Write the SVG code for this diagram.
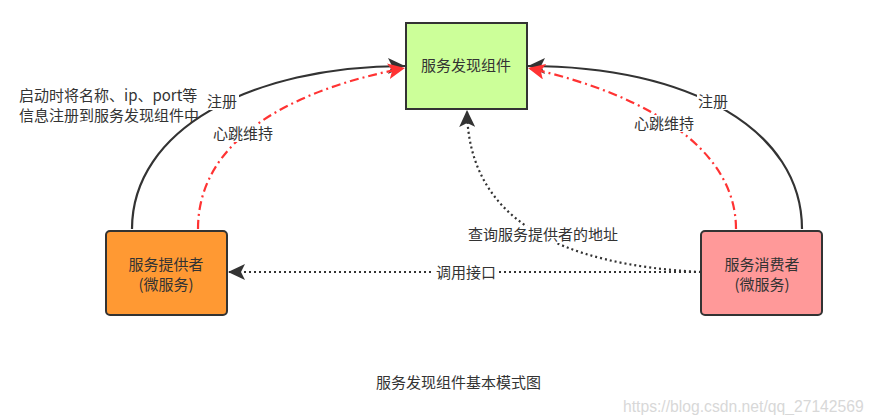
<svg xmlns="http://www.w3.org/2000/svg" width="880" height="415" viewBox="0 0 880 415">
<style>
text{font-family:"Noto Sans CJK SC","Microsoft YaHei",sans-serif;font-size:15px;fill:#333}
.node{stroke:#333;stroke-width:2}
.reg{fill:none;stroke:#333;stroke-width:2.2}
.hb{fill:none;stroke:#FF3333;stroke-width:2.2;stroke-dasharray:9 4 2 4}
.dot{fill:none;stroke:#333;stroke-width:2.2;stroke-dasharray:2 3}
.lbl{fill:#fff}
.c{text-anchor:middle}
</style>
<defs>
<marker id="ab" markerUnits="userSpaceOnUse" markerWidth="18" markerHeight="16" viewBox="0 0 18 16" refX="17" refY="8" orient="auto">
<path d="M0,0 L17,8 L0,16 L4,8 z" fill="#333"/>
</marker>
<marker id="ar" markerUnits="userSpaceOnUse" markerWidth="18" markerHeight="16" viewBox="0 0 18 16" refX="17" refY="8" orient="auto">
<path d="M0,0 L17,8 L0,16 L4,8 z" fill="#FF3333"/>
</marker>
</defs>
<rect width="880" height="415" fill="#fff"/>
<g id="connectors">
<path class="reg" d="M132,229 C132,130 250,66 405,66" marker-end="url(#ab)"/>
<path class="hb" d="M198,229 C198,140 290,90 405,68" marker-end="url(#ar)"/>
<path class="reg" d="M802,229 C802,130 690,66 528,66" marker-end="url(#ab)"/>
<path class="hb" d="M736,229 C736,150 650,95 528,68" marker-end="url(#ar)"/>
<path class="dot" d="M701,272 C560,265 468,220 467,110" marker-end="url(#ab)"/>
<path class="dot" d="M701,272 L228,272" marker-end="url(#ab)"/>
<rect class="lbl" x="206" y="93" width="33" height="17"/>
<text x="222" y="107" class="c">注册</text>
<rect class="lbl" x="211" y="125" width="63" height="17"/>
<text x="243" y="139" class="c">心跳维持</text>
<rect class="lbl" x="697" y="93" width="33" height="17"/>
<text x="713" y="107" class="c">注册</text>
<rect class="lbl" x="632" y="115" width="63" height="17"/>
<text x="664" y="129" class="c">心跳维持</text>
<rect class="lbl" x="464" y="226" width="158" height="17"/>
<text x="543" y="240" class="c">查询服务提供者的地址</text>
<rect class="lbl" x="434" y="264" width="64" height="17"/>
<text x="466" y="278" class="c">调用接口</text>
</g>
<g id="discovery">
<rect class="node" x="406" y="23" width="121" height="86" fill="#CCFF99"/>
<text x="466" y="71" class="c">服务发现组件</text>
</g>
<g id="provider">
<rect class="node" x="106" y="231" width="121" height="84" rx="4" fill="#FF9933"/>
<text x="166" y="270" class="c">服务提供者</text>
<text x="166" y="290" class="c">(微服务)</text>
</g>
<g id="consumer">
<rect class="node" x="701" y="231" width="121" height="84" rx="4" fill="#FF9999"/>
<text x="762" y="270" class="c">服务消费者</text>
<text x="762" y="290" class="c">(微服务)</text>
</g>
<text x="19" y="101">启动时将名称、ip、port等</text>
<text x="19" y="121">信息注册到服务发现组件中</text>
<text x="376" y="388">服务发现组件基本模式图</text>
<text x="623" y="412" style="font-family:'Liberation Sans',Arial,sans-serif;font-size:15.7px;fill:#d8d8d8">https://blog.csdn.net/qq_27142569</text>
</svg>
